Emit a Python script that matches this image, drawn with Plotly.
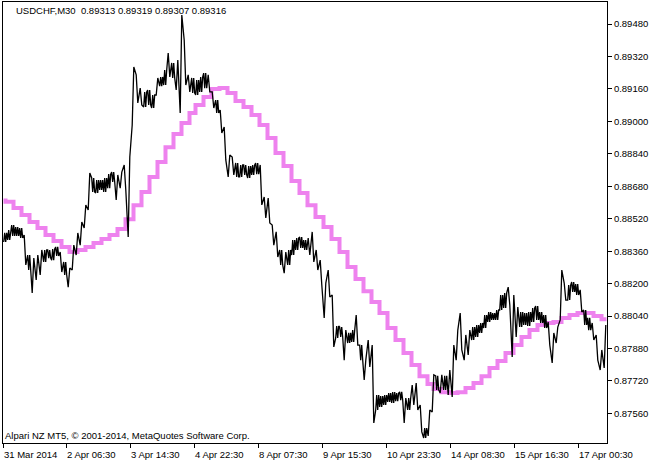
import pandas as pd
import plotly.graph_objects as go

# ---------------- data ----------------
header_text = "USDCHF,M30  0.89313 0.89319 0.89307 0.89316"
copyright_text = "Alpari NZ MT5, © 2001-2014, MetaQuotes Software Corp."

# M30 trading sessions shown on the chart (weekends skipped)
sessions = [("2014-03-31 23:00", "2014-04-04 22:30"),
            ("2014-04-07 00:00", "2014-04-11 22:30"),
            ("2014-04-14 00:00", "2014-04-17 14:30")]

x_tick_times = ["2014-03-31 23:00", "2014-04-02 06:30", "2014-04-03 14:30",
                "2014-04-04 22:30", "2014-04-08 07:30", "2014-04-09 15:30",
                "2014-04-10 23:30", "2014-04-14 08:30", "2014-04-15 16:30",
                "2014-04-17 00:30"]
x_tick_labels = ["31 Mar 2014", "2 Apr 06:30", "3 Apr 14:30", "4 Apr 22:30",
                 "8 Apr 07:30", "9 Apr 15:30", "10 Apr 23:30", "14 Apr 08:30",
                 "15 Apr 16:30", "17 Apr 00:30"]

y_tick_values = [0.87560, 0.87720, 0.87880, 0.88040, 0.88200, 0.88360, 0.88520,
                 0.88680, 0.88840, 0.89000, 0.89160, 0.89320, 0.89480]

# price high / low per block of 4 M30 bars
price_high = [
    0.88450, 0.88464, 0.88489, 0.88479, 0.88474, 0.88440, 0.88341, 0.88326, 0.88341, 0.88366,
    0.88366, 0.88366, 0.88371, 0.88381, 0.88356, 0.88307, 0.88277, 0.88390, 0.88450, 0.88504,
    0.88588, 0.88745, 0.88721, 0.88711, 0.88711, 0.88721, 0.88740, 0.88750, 0.88736, 0.88750,
    0.88785, 0.88824, 0.89268, 0.89229, 0.89164, 0.89145, 0.89155, 0.89130, 0.89214, 0.89219,
    0.89253, 0.89337, 0.89288, 0.89303, 0.89524, 0.89401, 0.89229, 0.89214, 0.89204, 0.89219,
    0.89238, 0.89229, 0.89145, 0.89105, 0.89056, 0.88972, 0.88834, 0.88824, 0.88795, 0.88785,
    0.88785, 0.88780, 0.88785, 0.88795, 0.88785, 0.88627, 0.88622, 0.88489, 0.88455, 0.88366,
    0.88356, 0.88366, 0.88415, 0.88425, 0.88430, 0.88415, 0.88425, 0.88455, 0.88366, 0.88316,
    0.88203, 0.88267, 0.88144, 0.87991, 0.87986, 0.87971, 0.87957, 0.87971, 0.88045, 0.87897,
    0.87823, 0.87922, 0.87897, 0.87651, 0.87646, 0.87651, 0.87661, 0.87666, 0.87661, 0.87666,
    0.87636, 0.87636, 0.87700, 0.87710, 0.87602, 0.87488, 0.87577, 0.87750, 0.87745, 0.87750,
    0.87745, 0.87774, 0.87897, 0.87971, 0.88055, 0.87947, 0.87971, 0.87986, 0.87996, 0.88006,
    0.88045, 0.88060, 0.88055, 0.88070, 0.88144, 0.88154, 0.88183, 0.88144, 0.88085, 0.88060,
    0.88055, 0.88060, 0.88080, 0.88090, 0.88060, 0.88045, 0.88011, 0.87957, 0.87986, 0.88267,
    0.88203, 0.88193, 0.88208, 0.88198, 0.88169, 0.88070, 0.88031, 0.88006, 0.87947, 0.87873,
    0.87996]
price_low = [
    0.88405, 0.88415, 0.88435, 0.88435, 0.88425, 0.88292, 0.88267, 0.88154, 0.88218, 0.88243,
    0.88307, 0.88326, 0.88316, 0.88336, 0.88257, 0.88243, 0.88183, 0.88267, 0.88341, 0.88390,
    0.88474, 0.88563, 0.88652, 0.88647, 0.88662, 0.88652, 0.88671, 0.88701, 0.88612, 0.88671,
    0.88662, 0.88430, 0.88982, 0.89091, 0.89081, 0.89071, 0.89081, 0.89066, 0.89130, 0.89174,
    0.89179, 0.89219, 0.89214, 0.89155, 0.89041, 0.89179, 0.89145, 0.89140, 0.89130, 0.89145,
    0.89164, 0.89145, 0.89066, 0.89041, 0.88943, 0.88810, 0.88726, 0.88736, 0.88726, 0.88726,
    0.88736, 0.88721, 0.88736, 0.88740, 0.88588, 0.88524, 0.88499, 0.88390, 0.88331, 0.88292,
    0.88252, 0.88292, 0.88341, 0.88366, 0.88376, 0.88366, 0.88341, 0.88307, 0.88267, 0.88193,
    0.88031, 0.88134, 0.87888, 0.87932, 0.87937, 0.87823, 0.87907, 0.87912, 0.87897, 0.87823,
    0.87725, 0.87789, 0.87513, 0.87577, 0.87592, 0.87602, 0.87617, 0.87612, 0.87621, 0.87626,
    0.87513, 0.87577, 0.87602, 0.87577, 0.87469, 0.87439, 0.87449, 0.87567, 0.87676, 0.87661,
    0.87676, 0.87651, 0.87641, 0.87823, 0.87873, 0.87823, 0.87848, 0.87922, 0.87937, 0.87957,
    0.87981, 0.88011, 0.88021, 0.88021, 0.88070, 0.88080, 0.88095, 0.87838, 0.87937, 0.87986,
    0.87996, 0.87991, 0.88011, 0.88021, 0.88006, 0.87981, 0.87897, 0.87809, 0.87907, 0.88021,
    0.88119, 0.88119, 0.88159, 0.88144, 0.88060, 0.87996, 0.87971, 0.87922, 0.87823, 0.87774,
    0.87784]

# moving average, one value per H4 bar (31 Mar 20:00 ... 17 Apr 12:00)
ma_h4 = [
    0.88610, 0.88604, 0.88573, 0.88538, 0.88504, 0.88474, 0.88440, 0.88410, 0.88380, 0.88356,
    0.88366, 0.88380, 0.88400, 0.88420, 0.88440, 0.88469, 0.88518, 0.88587, 0.88652, 0.88726,
    0.88800, 0.88873, 0.88938, 0.88992, 0.89041,
    0.89081, 0.89120, 0.89160, 0.89164, 0.89140, 0.89100, 0.89071, 0.89031, 0.88982, 0.88918,
    0.88844, 0.88780, 0.88706, 0.88647, 0.88587, 0.88528, 0.88479, 0.88420, 0.88356, 0.88282,
    0.88223, 0.88163, 0.88109, 0.88055, 0.87981, 0.87922, 0.87858, 0.87799, 0.87744, 0.87705,
    0.87680, 0.87665, 0.87661, 0.87665, 0.87685, 0.87710, 0.87744, 0.87784, 0.87818, 0.87858,
    0.87897, 0.87937, 0.87971, 0.87996, 0.88006, 0.88011, 0.88030, 0.88045, 0.88055, 0.88055,
    0.88040, 0.88025]

# ---------------- build ----------------
bar_times = pd.DatetimeIndex([])
for s, e in sessions:
    bar_times = bar_times.append(pd.date_range(s, e, freq="30min"))
n_bars = len(bar_times)
bar_pos = {t: i for i, t in enumerate(bar_times)}

h4_keys = sorted(set(bar_times.floor("4h")))
ma_map = dict(zip(h4_keys, ma_h4))
ma_per_bar = [ma_map[t] for t in bar_times.floor("4h")]

block = 4
calm_range = 0.00075   # blocks narrower than this are drawn as a dense band
px, py = [], []
for g, (hi, lo) in enumerate(zip(price_high, price_low)):
    mid = (hi + lo) / 2
    if g + 1 < len(price_high):
        nxt = (price_high[g + 1] + price_low[g + 1]) / 2
    else:
        nxt = mid
    a, b = (lo, hi) if nxt >= mid else (hi, lo)
    x0 = g * block
    if hi - lo < calm_range:
        px += [x0 + 0.2, x0 + 1.2, x0 + 2.2, x0 + 3.2]
        py += [a, b, a, b]
    else:
        px += [x0 + 0.7, x0 + 2.3]
        py += [a, b]

tick_idx = [bar_pos[pd.Timestamp(t)] for t in x_tick_times]

FONT = "Liberation Sans"
FS = 9.5

fig = go.Figure()
fig.add_trace(go.Scatter(x=list(range(n_bars)), y=ma_per_bar, mode="lines",
                         line=dict(color="#EE82EE", width=4, shape="hv"),
                         hoverinfo="skip"))
fig.add_trace(go.Scatter(x=px, y=py, mode="lines",
                         line=dict(color="#000000", width=1.3),
                         hoverinfo="skip"))

annotations = []
for i, lab in zip(tick_idx, x_tick_labels):
    annotations.append(dict(x=i, y=0, xref="x", yref="paper", text=lab,
                            showarrow=False, xanchor="left", yanchor="top",
                            xshift=-2, yshift=-4,
                            font=dict(family=FONT, size=FS, color="black")))
annotations.append(dict(x=0, y=1, xref="paper", yref="paper", text=header_text,
                        showarrow=False, xanchor="left", yanchor="top",
                        xshift=11, yshift=-1,
                        font=dict(family=FONT, size=FS, color="black")))
annotations.append(dict(x=0, y=0, xref="paper", yref="paper", text=copyright_text,
                        showarrow=False, xanchor="left", yanchor="bottom",
                        xshift=0, yshift=0,
                        font=dict(family=FONT, size=FS, color="black")))

fig.update_layout(
    width=660, height=465,
    margin=dict(l=3, r=53, t=2, b=22),
    paper_bgcolor="white", plot_bgcolor="white",
    showlegend=False,
    annotations=annotations,
    xaxis=dict(range=[-0.5, n_bars - 0.5], showgrid=False, zeroline=False,
               showline=True, mirror=True, linecolor="black", linewidth=1,
               tickvals=tick_idx, ticktext=[""] * len(tick_idx),
               ticks="outside", ticklen=4, tickcolor="black", tickwidth=1),
    yaxis=dict(range=[0.874143, 0.895885], side="right", showgrid=False,
               zeroline=False, showline=True, mirror=True, linecolor="black",
               linewidth=1, tickvals=y_tick_values, tickformat=".5f",
               ticks="outside", ticklen=4, tickcolor="black", tickwidth=1,
               tickfont=dict(family=FONT, size=FS, color="black")),
)

fig.write_html("out.html",
               config={"displayModeBar": False, "staticPlot": True},
               post_script="document.body.style.margin='0';"
                           "document.body.style.overflow='hidden';")
